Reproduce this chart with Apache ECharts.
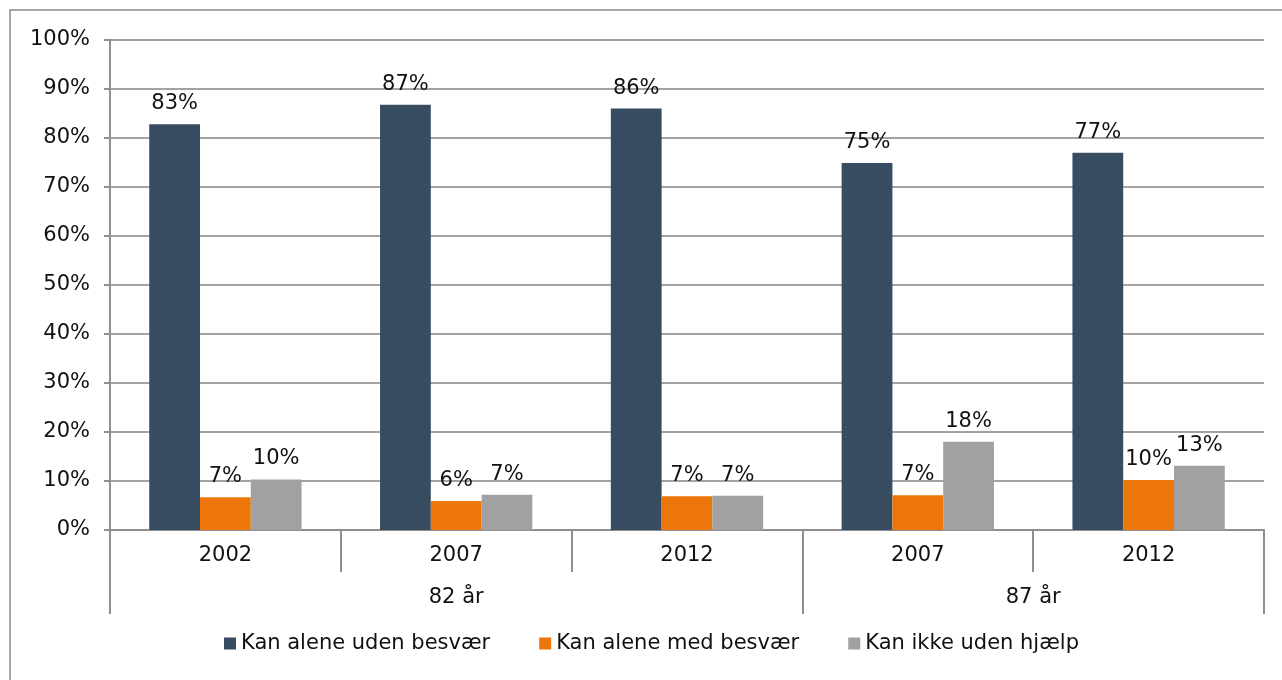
<!DOCTYPE html>
<html>
<head>
<meta charset="utf-8">
<script src="https://cdn.jsdelivr.net/npm/echarts@6/dist/echarts.min.js"></script>
<style>
  html, body { margin: 0; padding: 0; background: #fff; }
  #main { width: 1282px; height: 680px; }
</style>
</head>
<body>
<div id="main"></div>
<script>
// data
var years = ["2002", "2007", "2012", "2007", "2012"];
var ageGroups = ["82 år", "87 år"];
var ageSpans = [3, 2]; // number of year categories in each age group
var seriesNames = ["Kan alene uden besvær", "Kan alene med besvær", "Kan ikke uden hjælp"];
var udenBesvaer = [82.8, 86.8, 86.0, 74.9, 77.0];
var medBesvaer = [6.7, 5.9, 6.9, 7.1, 10.2];
var ikkeUdenHjaelp = [10.3, 7.2, 7.0, 18.0, 13.1];
var yTicks = [0, 10, 20, 30, 40, 50, 60, 70, 80, 90, 100];

var colors = ["#374c61", "#ec7609", "#a1a1a1"];
var axisGray = "#8f8f8f";
var font = "DejaVu Sans";
var fs = 21;

// group boundaries and centres on a 0..n value scale
var bounds = [0];
var centres = [];
ageSpans.forEach(function (s) {
  var start = bounds[bounds.length - 1];
  centres.push(start + s / 2);
  bounds.push(start + s);
});

function pct(p) {
  return Math.round(p.value) + "%";
}

function barSeries(name, data, idx) {
  return {
    name: name,
    type: "bar",
    data: data,
    barGap: "0%",
    barCategoryGap: "34%",
    itemStyle: { color: colors[idx] },
    label: {
      show: true,
      position: "top",
      distance: 10,
      formatter: pct,
      color: "#111",
      fontFamily: font,
      fontSize: fs
    }
  };
}

var chart = echarts.init(document.getElementById("main"));
chart.setOption({
  animation: false,
  textStyle: { fontFamily: font },
  graphic: [
    {
      type: "rect",
      shape: { x: 10, y: 10, width: 1290, height: 700 },
      style: { fill: "none", stroke: "#8a8a8a", lineWidth: 1.5 },
      silent: true
    }
  ],
  grid: { left: 110, right: 18, top: 40, bottom: 150 },
  legend: {
    data: seriesNames,
    left: 219,
    top: 628,
    itemWidth: 12,
    itemHeight: 12,
    itemGap: 49,
    icon: "rect",
    textStyle: { fontFamily: font, fontSize: fs, color: "#111" }
  },
  xAxis: [
    {
      type: "category",
      data: years,
      axisLine: { lineStyle: { color: axisGray, width: 2 } },
      axisTick: { show: true, interval: 0, length: 42, lineStyle: { color: axisGray, width: 2 } },
      axisLabel: { interval: 0, margin: 15, color: "#111", fontFamily: font, fontSize: fs }
    },
    {
      type: "value",
      position: "bottom",
      min: 0,
      max: years.length,
      splitLine: { show: false },
      axisLine: { show: false },
      axisTick: {
        show: true,
        length: 84,
        customValues: bounds,
        lineStyle: { color: axisGray, width: 2 }
      },
      axisLabel: {
        margin: 57,
        customValues: centres,
        formatter: function (v) {
          var i = centres.indexOf(v);
          return i >= 0 ? ageGroups[i] : "";
        },
        color: "#111",
        fontFamily: font,
        fontSize: fs
      }
    }
  ],
  yAxis: {
    type: "value",
    min: 0,
    max: 100,
    interval: 10,
    axisLine: { show: true, lineStyle: { color: axisGray, width: 2 } },
    axisTick: { show: true, length: 6, lineStyle: { color: axisGray, width: 2 } },
    splitLine: { lineStyle: { color: "#a3a3a3", width: 2 } },
    axisLabel: {
      margin: 20,
      color: "#111",
      fontFamily: font,
      fontSize: fs,
      customValues: yTicks,
      formatter: "{value}%"
    }
  },
  series: [
    barSeries(seriesNames[0], udenBesvaer, 0),
    barSeries(seriesNames[1], medBesvaer, 1),
    barSeries(seriesNames[2], ikkeUdenHjaelp, 2)
  ]
});
</script>
</body>
</html>
